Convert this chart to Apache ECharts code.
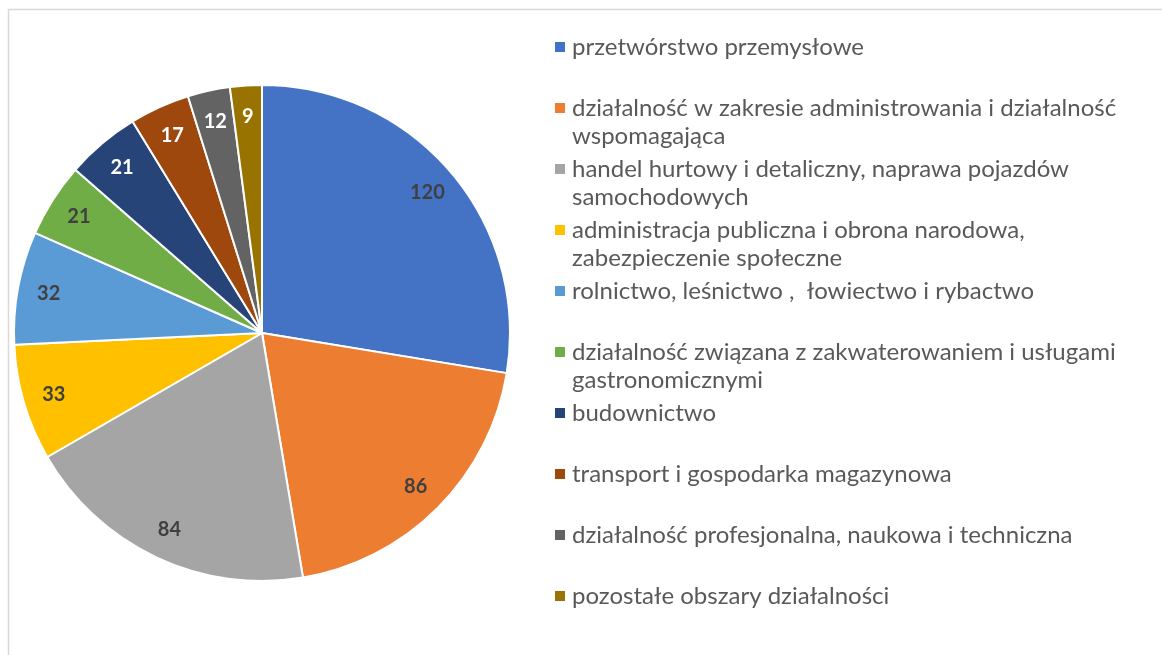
<!DOCTYPE html>
<html>
<head>
<meta charset="utf-8">
<script src="https://cdn.jsdelivr.net/npm/echarts@6/dist/echarts.min.js"></script>
<style>
html, body { margin: 0; padding: 0; background: #fff; }
#chart { width: 1162px; height: 655px; }
</style>
</head>
<body>
<div id="chart"></div>
<script>
// nazwy sekcji (z podziałem wierszy jak w legendzie)
var categories = [
    'przetwórstwo przemysłowe',
    'działalność w zakresie administrowania i działalność\nwspomagająca',
    'handel hurtowy i detaliczny, naprawa pojazdów\nsamochodowych',
    'administracja publiczna i obrona narodowa,\nzabezpieczenie społeczne',
    'rolnictwo, leśnictwo ,  łowiectwo i rybactwo',
    'działalność związana z zakwaterowaniem i usługami\ngastronomicznymi',
    'budownictwo',
    'transport i gospodarka magazynowa',
    'działalność profesjonalna, naukowa i techniczna',
    'pozostałe obszary działalności'
];
var values = [120, 86, 84, 33, 32, 21, 21, 17, 12, 9];
var colors = ['#4472C4', '#ED7D31', '#A5A5A5', '#FFC000', '#5B9BD5', '#70AD47', '#264478', '#9E480E', '#636363', '#997300'];
var labelColors = ['#404040', '#404040', '#404040', '#404040', '#404040', '#404040', '#ffffff', '#ffffff', '#ffffff', '#ffffff'];

var FONT = 'Lato, "Noto Sans", sans-serif';

var myChart = echarts.init(document.getElementById('chart'));

var pieData = [];
var labelData = [];
var rich = {
    t: { fontSize: 24, color: '#595959', fontFamily: FONT, lineHeight: 28, padding: [0, 0, 0, 7] },
    t2: { fontSize: 24, color: '#595959', fontFamily: FONT, lineHeight: 28, padding: [0, 0, 0, 17] }
};
for (var i = 0; i < categories.length; i++) {
    pieData.push({ name: categories[i], value: values[i], itemStyle: { color: colors[i] } });
    labelData.push({ name: categories[i], value: values[i], label: { color: labelColors[i] } });
    rich['m' + i] = { width: 10, height: 10, backgroundColor: colors[i] };
}

var option = {
    animation: false,
    backgroundColor: '#fff',
    color: colors,
    graphic: [{
        type: 'rect',
        shape: { x: 8.5, y: 9.5, width: 1300, height: 800 },
        style: { fill: 'none', stroke: '#d9d9d9', lineWidth: 1.5 },
        silent: true
    }],
    legend: {
        orient: 'vertical',
        left: 550,
        top: 35,
        padding: 0,
        itemGap: 9,
        itemWidth: 0,
        itemHeight: 0,
        icon: 'none',
        selectedMode: false,
        data: categories,
        formatter: function (name) {
            var idx = categories.indexOf(name);
            var parts = name.split('\n');
            var s = '{m' + idx + '|}{t|' + parts[0] + '}\n';
            s += '{t2|' + (parts[1] || ' ') + '}';
            return s;
        },
        textStyle: { rich: rich, padding: 0 }
    },
    series: [
        {
            name: 'sekcje',
            type: 'pie',
            center: [262, 333],
            radius: 248,
            startAngle: 90,
            clockwise: true,
            label: { show: false },
            labelLine: { show: false },
            itemStyle: { borderColor: '#fff', borderWidth: 2 },
            data: pieData
        },
        {
            // niewidoczna warstwa tylko dla etykiet (bliżej krawędzi)
            name: 'etykiety',
            type: 'pie',
            center: [262, 333],
            radius: [180, 248],
            startAngle: 90,
            clockwise: true,
            silent: true,
            legendHoverLink: false,
            itemStyle: { color: 'rgba(0,0,0,0)' },
            label: {
                show: true,
                position: 'inside',
                formatter: '{c}',
                fontFamily: FONT,
                fontWeight: 'bold',
                fontSize: 20
            },
            labelLine: { show: false },
            data: labelData
        }
    ]
};
myChart.setOption(option);
</script>
</body>
</html>
